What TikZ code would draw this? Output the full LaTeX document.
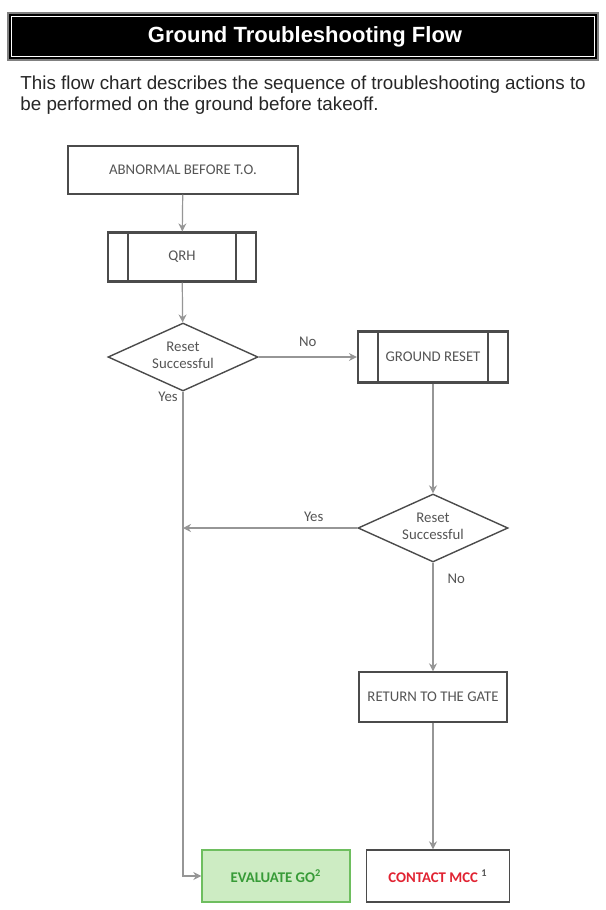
\documentclass[tikz,border=0pt]{standalone}
\usepackage{fontspec}
\setmainfont{Liberation Sans}
\newfontfamily\chartfont{Carlito}
\usetikzlibrary{positioning, arrows.meta, shapes.geometric}
\definecolor{boxgray}{RGB}{75,75,75}
\definecolor{linegray}{RGB}{150,150,150}
\definecolor{txtgray}{RGB}{85,85,85}
\definecolor{gofill}{RGB}{205,236,195}
\definecolor{godraw}{RGB}{110,190,95}
\definecolor{gotext}{RGB}{55,155,55}
\definecolor{mccred}{RGB}{225,35,50}
\tikzset{
  procbox/.style = {rectangle, draw=boxgray, line width=0.7pt, inner sep=0pt,
                    font=\chartfont\fontsize{7.4}{8}\selectfont, text=txtgray},
  subproc/.style = {procbox, line width=1.1pt,
                    path picture={
                      \draw[boxgray, line width=0.7pt]
                        ([xshift=10pt]path picture bounding box.north west) --
                        ([xshift=10pt]path picture bounding box.south west);
                      \draw[boxgray, line width=0.7pt]
                        ([xshift=-10pt]path picture bounding box.north east) --
                        ([xshift=-10pt]path picture bounding box.south east);}},
  decision/.style= {diamond, draw=boxgray, line width=0.7pt, inner sep=0pt,
                    minimum width=75pt, minimum height=34pt,
                    label={[lbl, align=center, font=\chartfont\fontsize{7.4}{8.6}\selectfont,
                            yshift=1pt]center:#1}},
  arr/.style     = {-{Stealth[length=4pt, width=4pt]}, linegray, line width=0.6pt},
  lbl/.style     = {font=\chartfont\fontsize{7.4}{8}\selectfont, text=txtgray, inner sep=1pt}
}
\begin{document}
\begin{tikzpicture}[x=0.5pt, y=-0.5pt]
  \useasboundingbox[fill=white] (0,0) rectangle (605,910);
  % title bar
  \draw[fill=black, draw=gray, line width=0.8pt] (8,13) rectangle (598,60);
  \draw[white, line width=0.6pt] (11.5,16.5) rectangle (594.5,56.5);
  \node[text=white, font=\bfseries\fontsize{11}{13}\selectfont] (title) at (305,37)
    {Ground Troubleshooting Flow};
  \node[anchor=west, align=left, inner sep=0pt, text=black!85,
        font=\fontsize{9.4}{10.2}\selectfont] (intro) at (20,95)
    {This flow chart describes the sequence of troubleshooting actions to\\
     be performed on the ground before takeoff.};

  % chart
  \node[procbox, minimum width=115pt, minimum height=24pt]   (abn)  at (183,170) {ABNORMAL BEFORE T.O.};
  \node[subproc, minimum width=74pt, minimum height=24.5pt]  (qrh)  at (182,257) {QRH};
  \node[decision={Reset\\Successful}] (dec1) at (183,357) {};
  \node[subproc, minimum width=75pt, minimum height=25.5pt]  (grst) at (433,357) {GROUND RESET};
  \node[decision={Reset\\Successful}] (dec2) at (433,528) {};
  \node[procbox, minimum width=74pt, minimum height=25pt]    (ret)  at (433,697) {RETURN TO THE GATE};
  \node[procbox, minimum width=74pt, minimum height=26pt, fill=gofill, draw=godraw,
        text=gotext, font=\chartfont\bfseries\fontsize{7.4}{8}\selectfont]
    (evalgo) at (276,876) {EVALUATE GO\textsuperscript{2}};
  \node[procbox, minimum width=71.5pt, minimum height=26pt, text=mccred,
        font=\chartfont\bfseries\fontsize{7.4}{8}\selectfont]
    (mcc) at (438,876) {CONTACT MCC \textsuperscript{\color{txtgray}1}};
  \coordinate (yesjoin) at (dec1.south |- dec2.west);

  \draw[arr] (abn) -- (qrh);
  \draw[arr] (qrh) -- (dec1);
  \draw[arr] (dec1.east) -- node[lbl, above=4pt] {No} (grst.west);
  \draw[arr] (grst) -- (dec2);
  \draw[arr] (dec2.west) -- node[lbl, above=2pt, pos=0.25] {Yes} (yesjoin);
  \draw[arr] (dec1.south) |- (evalgo.west);
  \node[lbl] (yes1) at (168,397) {Yes};
  \draw[arr] (dec2.south) -- node[lbl, right=6pt, pos=0.15] {No} (ret.north);
  \draw[arr] (ret.south) -- (ret.south |- mcc.north);
\end{tikzpicture}
\end{document}
